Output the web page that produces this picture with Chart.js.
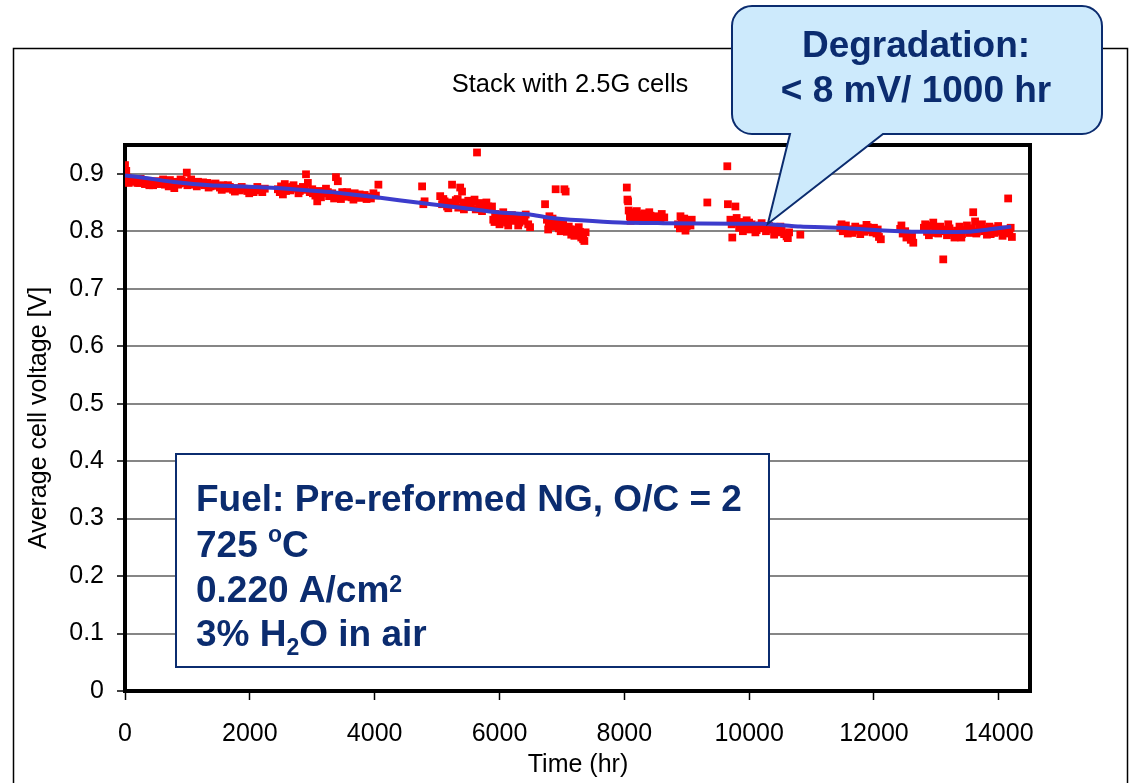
<!DOCTYPE html>
<html>
<head>
<meta charset="utf-8">
<title>Stack with 2.5G cells</title>
<script src="https://cdn.jsdelivr.net/npm/chart.js@4.4.1/dist/chart.umd.min.js"></script>
<style>
  html, body { margin: 0; padding: 0; background: #fff; }
  canvas { display: block; }
</style>
</head>
<body>
<canvas id="stackChart" width="1131" height="783"></canvas>
<script>
// Measured average cell voltage vs. operating time
const hours = [
  0, 20, 30, 60, 100, 140, 180, 230, 270, 320,
  360, 410, 450, 500, 540, 590, 640, 680, 720, 760,
  790, 830, 870, 910, 950, 990, 1030, 1080, 1120, 1170,
  1220, 1270, 1320, 1370, 1420, 1470, 1520, 1570, 1620, 1680,
  1730, 1790, 1840, 1900, 1960, 2010, 2060, 2120, 2170, 2240,
  40, 120, 200, 250, 300, 390, 470, 560, 610, 700,
  850, 890, 1000, 1060, 1150, 1250, 1340, 1450, 1550, 1650,
  1760, 1870, 1990, 2090, 2200,
  2450, 2500, 2530, 2560, 2600, 2650, 2700, 2750, 2800, 2850,
  2900, 2930, 2960, 3000, 3050, 3080, 3120, 3170, 3220, 3270,
  3320, 3380, 3410, 3440, 3480, 3530, 3580, 3630, 3680, 3730,
  3780, 3840, 3890, 3940, 4020, 4060,
  2480, 2580, 2680, 2780, 2880, 3010, 3140, 3250, 3350, 3460,
  3560, 3660, 3760, 3870, 3980,
  4760, 4780, 4800, 5050, 5080, 5120, 5160, 5200, 5240, 5270,
  5300, 5340, 5370, 5400, 5420, 5460, 5500, 5540, 5580, 5620,
  5640, 5680, 5700, 5760, 5820,
  5100, 5180, 5260, 5330, 5430, 5520, 5600, 5720, 5790,
  5880, 5900, 5920, 5950, 5990, 6030, 6080, 6120, 6170, 6220,
  6270, 6320, 6370, 6420, 6460, 6490,
  5930, 6000, 6060, 6140, 6200, 6300, 6400,
  6730, 6760, 6790, 6800, 6830, 6870, 6900, 6920, 6950, 6990,
  7040, 7060, 7080, 7110, 7150, 7190, 7230, 7270, 7310, 7340,
  7380,
  6780, 6850, 6880, 6980, 7020, 7130, 7200, 7290, 7360,
  8040, 8050, 8060, 8070, 8090, 8130, 8170, 8220, 8270, 8320,
  8370, 8420, 8470, 8530, 8580, 8640,
  8100, 8200, 8300, 8400, 8500, 8600,
  8860, 8890, 8920, 8960, 9000, 9040, 9080, 9330,
  8900, 8980, 9060,
  9650, 9660, 9700, 9720, 9730, 9780, 9800, 9840, 9880, 9920,
  9960, 10000, 10040, 10080, 10120, 10170, 10220, 10270, 10320, 10370,
  10420, 10470, 10520, 10560, 10600, 10640, 10820,
  9760, 9900, 10000, 10100, 10200, 10300, 10400, 10500, 10620,
  11460, 11500, 11550, 11600, 11650, 11700, 11750, 11800, 11850, 11900,
  11950, 12000, 12040, 12080, 12110, 12420, 12460, 12500, 12550, 12590,
  12630,
  11480, 11580, 11680, 11780, 11880, 11980, 12060, 12440, 12520, 12610,
  12800, 12850, 12900, 12950, 12990, 13030, 13060, 13110, 13130, 13170,
  13210, 13250, 13290, 13330, 13370, 13410, 13450, 13490, 13530, 13570,
  13590, 13620, 13650, 13690, 13730, 13770, 13810, 13850, 13890, 13930,
  13970, 14010, 14060, 14100, 14150, 14170, 14210,
  12820, 12880, 12970, 13080, 13190, 13300, 13400, 13510, 13640, 13750,
  13870, 13990, 14120, 14190
];
const voltage = [
  0.915, 0.905, 0.890, 0.884, 0.891, 0.886, 0.889, 0.884, 0.888, 0.882,
  0.886, 0.884, 0.880, 0.886, 0.882, 0.887, 0.881, 0.884, 0.889, 0.880,
  0.875, 0.886, 0.883, 0.888, 0.884, 0.902, 0.886, 0.884, 0.881, 0.886,
  0.882, 0.880, 0.884, 0.878, 0.882, 0.879, 0.876, 0.880, 0.874, 0.877,
  0.872, 0.875, 0.871, 0.874, 0.870, 0.873, 0.868, 0.877, 0.871, 0.874,
  0.893, 0.889, 0.884, 0.891, 0.885, 0.880, 0.887, 0.883, 0.890, 0.878,
  0.881, 0.890, 0.880, 0.890, 0.878, 0.885, 0.876, 0.883, 0.872, 0.880,
  0.869, 0.877, 0.866, 0.872, 0.868,
  0.873, 0.878, 0.864, 0.882, 0.876, 0.871, 0.880, 0.874, 0.870, 0.877,
  0.899, 0.884, 0.868, 0.873, 0.862, 0.852, 0.870, 0.866, 0.874, 0.861,
  0.866, 0.894, 0.887, 0.862, 0.868, 0.860, 0.864, 0.859, 0.866, 0.861,
  0.858, 0.863, 0.860, 0.857, 0.862, 0.881,
  0.868, 0.870, 0.877, 0.866, 0.872, 0.866, 0.859, 0.868, 0.857, 0.856,
  0.868, 0.855, 0.864, 0.856, 0.866,
  0.878, 0.847, 0.852, 0.861, 0.847, 0.852, 0.843, 0.850, 0.881, 0.846,
  0.854, 0.841, 0.876, 0.869, 0.850, 0.844, 0.853, 0.846, 0.851, 0.838,
  0.937, 0.849, 0.846, 0.841, 0.843,
  0.856, 0.840, 0.849, 0.856, 0.838, 0.842, 0.855, 0.835, 0.850,
  0.843, 0.820, 0.816, 0.828, 0.822, 0.818, 0.826, 0.815, 0.822, 0.818,
  0.826, 0.815, 0.821, 0.829, 0.812, 0.807,
  0.830, 0.812, 0.833, 0.810, 0.828, 0.810, 0.818,
  0.847, 0.820, 0.812, 0.826, 0.815, 0.808, 0.873, 0.818, 0.805, 0.812,
  0.873, 0.869, 0.799, 0.808, 0.794, 0.803, 0.797, 0.807, 0.789, 0.786,
  0.798,
  0.803, 0.822, 0.810, 0.800, 0.815, 0.803, 0.792, 0.799, 0.783,
  0.876, 0.855, 0.852, 0.836, 0.826, 0.833, 0.822, 0.829, 0.824, 0.831,
  0.822, 0.827, 0.820, 0.826, 0.821, 0.824,
  0.818, 0.835, 0.818, 0.833, 0.818, 0.830,
  0.812, 0.805, 0.818, 0.822, 0.809, 0.815, 0.820, 0.850,
  0.826, 0.801, 0.810,
  0.913, 0.847, 0.820, 0.812, 0.789, 0.843, 0.823, 0.806, 0.816, 0.810,
  0.819, 0.803, 0.812, 0.807, 0.802, 0.810, 0.805, 0.800, 0.809, 0.803,
  0.807, 0.798, 0.802, 0.795, 0.791, 0.798, 0.794,
  0.815, 0.800, 0.815, 0.798, 0.814, 0.807, 0.794, 0.808, 0.788,
  0.806, 0.800, 0.810, 0.803, 0.797, 0.808, 0.801, 0.805, 0.799, 0.807,
  0.802, 0.806, 0.796, 0.790, 0.786, 0.804, 0.796, 0.800, 0.791, 0.785,
  0.780,
  0.812, 0.796, 0.803, 0.795, 0.811, 0.798, 0.803, 0.810, 0.789, 0.793,
  0.806, 0.799, 0.810, 0.815, 0.803, 0.796, 0.808, 0.751, 0.800, 0.793,
  0.805, 0.797, 0.789, 0.801, 0.808, 0.795, 0.802, 0.810, 0.797, 0.805,
  0.833, 0.817, 0.799, 0.806, 0.812, 0.800, 0.794, 0.808, 0.802, 0.797,
  0.805, 0.799, 0.792, 0.803, 0.857, 0.796, 0.790,
  0.812, 0.793, 0.797, 0.803, 0.812, 0.796, 0.789, 0.803, 0.796, 0.804,
  0.795, 0.809, 0.800, 0.806
];

// Moving-average trend through the data
const trendHours = [0, 300, 830, 1360, 1890, 2440, 2960, 3320, 4030, 4390, 4910, 5450, 5970, 6490,
  6770, 7300, 7930, 8620, 9800, 10220, 10820, 11460, 11880, 12420, 12790, 13500, 13830, 14200];
const trendVoltage = [0.897, 0.893, 0.885, 0.880, 0.878, 0.875, 0.871, 0.868, 0.859, 0.854, 0.847, 0.840, 0.833, 0.829,
  0.824, 0.819, 0.815, 0.814, 0.813, 0.813, 0.808, 0.806, 0.803, 0.800, 0.799, 0.799, 0.803, 0.808];

const xTickValues = [0, 2000, 4000, 6000, 8000, 10000, 12000, 14000];
const yTickValues = [0, 0.1, 0.2, 0.3, 0.4, 0.5, 0.6, 0.7, 0.8, 0.9];

const FONT = '"Liberation Sans", Arial, Helvetica, sans-serif';
const NAVY = '#0b2c6f';

Chart.defaults.font.family = FONT;
Chart.defaults.color = '#000';

// draw a line of text made of runs with their own size / vertical shift
function drawRuns(ctx, x, y, runs) {
  runs.forEach(function(r) {
    ctx.font = 'bold ' + r.size + 'px ' + FONT;
    ctx.fillText(r.text, x, y + (r.dy || 0));
    x += ctx.measureText(r.text).width;
  });
}

const decorations = {
  id: 'decorations',
  beforeDraw(chart) {
    const ctx = chart.ctx;
    ctx.save();
    ctx.fillStyle = '#fff';
    ctx.fillRect(0, 0, chart.width, chart.height);
    // outer chart frame
    ctx.strokeStyle = '#000';
    ctx.lineWidth = 1.5;
    ctx.strokeRect(13.5, 48.5, 1114, 800);
    ctx.fillStyle = '#000';
    ctx.textAlign = 'center';
    ctx.textBaseline = 'alphabetic';
    ctx.font = '25.5px ' + FONT;
    ctx.fillText('Stack with 2.5G cells', 570, 92);
    ctx.font = '25px ' + FONT;
    ctx.fillText('Time (hr)', 578, 772);
    ctx.translate(46, 418);
    ctx.rotate(-Math.PI / 2);
    ctx.fillText('Average cell voltage [V]', 0, 0);
    ctx.restore();
  },
  beforeDatasetsDraw(chart) {
    const a = chart.chartArea;
    const ctx = chart.ctx;
    ctx.save();
    ctx.strokeStyle = '#000';
    ctx.lineWidth = 4;
    ctx.strokeRect(a.left, a.top, a.right - a.left, a.bottom - a.top);
    ctx.restore();
  },
  afterDraw(chart) {
    const ctx = chart.ctx;
    ctx.save();

    // operating conditions box
    ctx.fillStyle = '#fff';
    ctx.strokeStyle = NAVY;
    ctx.lineWidth = 2;
    ctx.fillRect(176, 454, 593, 213);
    ctx.strokeRect(176, 454, 593, 213);
    ctx.fillStyle = NAVY;
    ctx.textAlign = 'left';
    ctx.textBaseline = 'alphabetic';
    drawRuns(ctx, 196, 511, [{ text: 'Fuel: Pre-reformed NG, O/C = 2', size: 37 }]);
    drawRuns(ctx, 196, 557, [{ text: '725 ', size: 37 }, { text: 'o', size: 23, dy: -15 }, { text: 'C', size: 37 }]);
    drawRuns(ctx, 196, 602, [{ text: '0.220 A/cm', size: 37 }, { text: '2', size: 23, dy: -10 }]);
    drawRuns(ctx, 196, 646, [{ text: '3% H', size: 37 }, { text: '2', size: 23, dy: 9 }, { text: 'O in air', size: 37 }]);

    // degradation callout pointing at the trend line
    const tipX = chart.scales.x.getPixelForValue(10300);
    const tipY = chart.scales.y.getPixelForValue(0.813);
    const l = 732, t = 6, r = 1102, b = 134, rad = 20;
    ctx.beginPath();
    ctx.moveTo(l + rad, t);
    ctx.lineTo(r - rad, t);
    ctx.arcTo(r, t, r, t + rad, rad);
    ctx.lineTo(r, b - rad);
    ctx.arcTo(r, b, r - rad, b, rad);
    ctx.lineTo(883, b);
    ctx.lineTo(tipX, tipY);
    ctx.lineTo(790, b);
    ctx.lineTo(l + rad, b);
    ctx.arcTo(l, b, l, b - rad, rad);
    ctx.lineTo(l, t + rad);
    ctx.arcTo(l, t, l + rad, t, rad);
    ctx.closePath();
    ctx.fillStyle = '#cdeafc';
    ctx.fill();
    ctx.strokeStyle = NAVY;
    ctx.lineWidth = 2;
    ctx.stroke();

    ctx.fillStyle = NAVY;
    ctx.textAlign = 'center';
    ctx.font = 'bold 37px ' + FONT;
    ctx.fillText('Degradation:', 916, 57);
    ctx.fillText('< 8 mV/ 1000 hr', 916, 102);
    ctx.restore();
  }
};

const ctx = document.getElementById('stackChart').getContext('2d');
const stackChart = new Chart(ctx, {
  type: 'scatter',
  data: {
    datasets: [{
      label: 'Trend',
      type: 'line',
      data: trendHours.map((h, i) => ({ x: h, y: trendVoltage[i] })),
      borderColor: 'rgb(60, 60, 204)',
      borderWidth: 4,
      pointRadius: 0,
      tension: 0.2,
      fill: false
    }, {
      label: 'Average cell voltage',
      data: hours.map((h, i) => ({ x: h, y: voltage[i] })),
      pointStyle: 'rect',
      pointRadius: 5.5,
      backgroundColor: '#ff0000',
      borderWidth: 0
    }]
  },
  options: {
    responsive: false,
    animation: false,
    devicePixelRatio: 1,
    layout: { padding: { left: 0, top: 145, right: 101, bottom: 0 } },
    plugins: {
      legend: { display: false },
      tooltip: { enabled: false },
      title: { display: false }
    },
    scales: {
      x: {
        type: 'linear',
        min: 0,
        max: 14500,
        afterBuildTicks: s => { s.ticks = xTickValues.map(value => ({ value })); },
        afterFit: s => { s.height = 92; },
        grid: { drawOnChartArea: false, tickColor: '#000', tickLength: 9, tickWidth: 1.5 },
        border: { display: false },
        ticks: {
          autoSkip: false,
          maxRotation: 0,
          padding: 19,
          font: { size: 25 },
          color: '#000',
          callback: v => String(v)
        }
      },
      y: {
        type: 'linear',
        min: 0,
        max: 0.95,
        afterBuildTicks: s => { s.ticks = yTickValues.map(value => ({ value })); },
        afterFit: s => { s.width = 125; },
        grid: { color: '#868686', lineWidth: 2, tickColor: '#000', tickLength: 8, tickWidth: 1.5 },
        border: { display: false },
        ticks: {
          padding: 13,
          font: { size: 25 },
          color: '#000',
          callback: v => (v === 0 ? '0' : v.toFixed(1))
        }
      }
    }
  },
  plugins: [decorations]
});
</script>
</body>
</html>
